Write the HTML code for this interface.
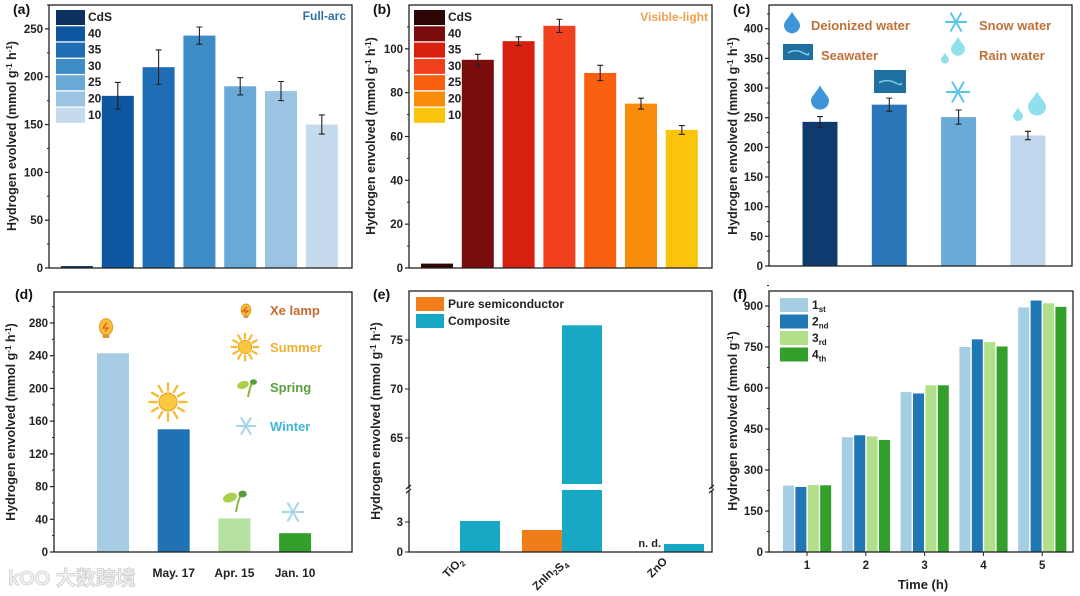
<!DOCTYPE html>
<html><head><meta charset="utf-8">
<style>
html,body{margin:0;padding:0;background:#fff;}
svg{display:block;font-family:"Liberation Sans","Noto Sans CJK SC",sans-serif;font-weight:bold;}
</style></head>
<body>
<svg id="fig" width="1080" height="596" viewBox="0 0 1080 596" xmlns="http://www.w3.org/2000/svg"></svg>
<script>
// Panel (a)
const aLabels = ["CdS","40","35","30","25","20","10"];
const aValues = [2,180,210,243,190,185,150];
const aErrors = [0.5,14,18,9,9,10,10];
const aTicks = [0,50,100,150,200,250];
// Panel (b)
const bLabels = ["CdS","40","35","30","25","20","10"];
const bValues = [2,95,103.5,110.5,89,75,63];
const bErrors = [0.3,2.5,2,3,3.5,2.5,2];
const bTicks = [0,20,40,60,80,100];
// Panel (c)
const cLabels = ["Deionized water","Seawater","Snow water","Rain water"];
const cValues = [243,272,251,220];
const cErrors = [9,11,12,7];
const cTicks = [0,50,100,150,200,250,300,350,400];
// Panel (d)
const dLabels = ["","May. 17","Apr. 15","Jan. 10"];
const dValues = [243,150,41,23];
const dTicks = [0,40,80,120,160,200,240,280];
// Panel (e)
const eCats = ["TiO2","ZnIn2S4","ZnO"];
const ePure = [0,2.2,null];
const eComp = [3.1,76.5,0.8];
const eTicksLow = [0,3];
const eTicksHigh = [65,70,75];
// Panel (f)
const fCats = ["1","2","3","4","5"];
const fRun1 = [243,420,585,750,895];
const fRun2 = [238,427,580,778,920];
const fRun3 = [245,423,610,768,910];
const fRun4 = [244,410,610,752,897];
const fTicks = [0,150,300,450,600,750,900];

const NS="http://www.w3.org/2000/svg";
const svg=document.getElementById('fig');
function mk(tag,attrs,parent,text){const e=document.createElementNS(NS,tag);for(const k in attrs)e.setAttribute(k,attrs[k]);if(text!==undefined)e.textContent=text;(parent||svg).appendChild(e);return e;}
function lin(d0,d1,r0,r1){return v=>r0+(v-d0)*(r1-r0)/(d1-d0);}

function frame(g,L,T,R,B){
  const f=mk('rect',{x:L,y:T,width:R-L,height:B-T,fill:'none',stroke:'#222','stroke-width':1.3},g);
  
}
function yaxis(g,L,ticks,y,minorStep,yTitle,tx,ty){
  ticks.forEach(t=>{
    const yy=y(t);
    const tl=mk('line',{x1:L-4,x2:L,y1:yy,y2:yy,stroke:'#222','stroke-width':1.2},g);
    
    const lb=mk('text',{x:L-6,y:yy+4,'text-anchor':'end','font-size':11.5,fill:'#222'},g,t);
    
    if(minorStep){const ym=y(t+minorStep);mk('line',{x1:L-2,x2:L,y1:ym,y2:ym,stroke:'#222','stroke-width':1},g);}
  });
  const tt=mk('text',{x:tx,y:ty,'text-anchor':'middle','font-size':12.5,fill:'#222',transform:`rotate(-90 ${tx} ${ty})`},g);
  
  tt.innerHTML=yTitle;
}
function plabel(g,x,y,t){const p=mk('text',{x:x,y:y,'font-size':14,fill:'#111'},g,t);}
const titleH='Hydrogen envolved (mmol g<tspan dy="-4" font-size="8">-1</tspan><tspan dy="4"> h</tspan><tspan dy="-4" font-size="8">-1</tspan><tspan dy="4">)</tspan>';
const titleE='Hydrogen evolved (mmol g<tspan dy="-4" font-size="8">-1</tspan><tspan dy="4"> h</tspan><tspan dy="-4" font-size="8">-1</tspan><tspan dy="4">)</tspan>';
function errbar(g,cx,yv,ye,y){
  const t=y(yv+ye),b=y(yv-ye);
  const e=mk('path',{d:`M${cx},${t}V${b}M${cx-3},${t}H${cx+3}M${cx-3},${b}H${cx+3}`,stroke:'#222','stroke-width':1.1,fill:'none'},g);
  
}

// ---------- Panel a ----------
(function(){
  const g=mk('g',{});
  const L=49,T=5,R=352,B=268;
  const y=lin(0,275,B,T);
  const cols=['#0b2f5e','#0e56a0','#1f6db5','#3d8cc6','#68a9d6','#9ac4e2','#c6daee'];
  aValues.forEach((v,i)=>{
    const cx=77+i*40.8;
    const r=mk('rect',{x:cx-16,y:y(v),width:32,height:B-y(v),fill:cols[i]},g);
    
    if(i>0)errbar(g,cx,v,aErrors[i],y);
  });
  aLabels.forEach((l,i)=>{
    const s=mk('rect',{x:56,y:10+i*16.3,width:29,height:15,fill:cols[i]},g);
    
    const t=mk('text',{x:88,y:21+i*16.3,'font-size':12,fill:'#222'},g,l);
    
  });
  const n=mk('text',{x:346,y:20,'text-anchor':'end','font-size':12,fill:'#2e6fa6'},g,'Full-arc');
  
  frame(g,L,T,R,B);
  yaxis(g,L,aTicks,y,25,titleE,16,136);
  plabel(g,13,14,'(a)');
})();

// ---------- Panel b ----------
(function(){
  const g=mk('g',{});
  const L=409,T=5,R=712,B=268;
  const y=lin(0,120,B,T);
  const cols=['#2e0505','#7a0c0c','#d8200e','#f0401e','#f86010','#fa8c0c','#fbc40c'];
  bValues.forEach((v,i)=>{
    const cx=437+i*40.8;
    const r=mk('rect',{x:cx-16,y:y(v),width:32,height:B-y(v),fill:cols[i]},g);
    
    if(i>0)errbar(g,cx,v,bErrors[i],y);
  });
  bLabels.forEach((l,i)=>{
    const s=mk('rect',{x:414,y:10+i*16.3,width:31,height:15,fill:cols[i]},g);
    
    const t=mk('text',{x:448,y:21+i*16.3,'font-size':12,fill:'#222'},g,l);
    
  });
  const n=mk('text',{x:708,y:21,'text-anchor':'end','font-size':12,fill:'#f0a050'},g,'Visible-light');
  
  frame(g,L,T,R,B);
  yaxis(g,L,bTicks,y,10,titleH,375,136);
  plabel(g,373,14,'(b)');
})();

// icons
function drop(g,cx,cy,s,fill,stroke){
  const d=mk('path',{d:`M${cx},${cy-s*1.3} C${cx+s*0.3},${cy-s*0.6} ${cx+s},${cy-s*0.1} ${cx+s},${cy+s*0.4} A${s},${s} 0 0 1 ${cx-s},${cy+s*0.4} C${cx-s},${cy-s*0.1} ${cx-s*0.3},${cy-s*0.6} ${cx},${cy-s*1.3}Z`,fill:fill,stroke:stroke||'none'},g);
  
}
function flake(g,cx,cy,s,col){
  let p='';for(let k=0;k<6;k++){const a=k*Math.PI/3;p+=`M${cx},${cy}L${cx+s*Math.cos(a)},${cy+s*Math.sin(a)}`;}
  const f=mk('path',{d:p,stroke:col,'stroke-width':2,fill:'none'},g);
  
}
function sea(g,x,y,w,h){
  const r=mk('rect',{x:x,y:y,width:w,height:h,fill:'#1f6fa0'},g);
  
  mk('path',{d:`M${x+5},${y+h*0.55}q${w/4},-4 ${w/2},0t${w/2-10},0`,stroke:'#7cc8e8','stroke-width':1.5,fill:'none'},g);
}
function sun(g,cx,cy,s){
  let p='';for(let k=0;k<12;k++){const a=k*Math.PI/6;p+=`M${cx+s*0.7*Math.cos(a)},${cy+s*0.7*Math.sin(a)}L${cx+s*1.3*Math.cos(a)},${cy+s*1.3*Math.sin(a)}`;}
  const r=mk('path',{d:p,stroke:'#f5b830','stroke-width':2.2,fill:'none'},g);
  
  mk('circle',{cx:cx,cy:cy,r:s*0.6,fill:'#f8c840',stroke:'#eaa020','stroke-width':1},g);
}
function bulb(g,cx,cy,s){
  const b=mk('ellipse',{cx:cx,cy:cy,rx:s*0.6,ry:s*0.75,fill:'#f7bf3a',stroke:'#e09a20'},g);
  
  mk('rect',{x:cx-s*0.3,y:cy+s*0.65,width:s*0.6,height:s*0.35,fill:'#d59a40'},g);
  mk('path',{d:`M${cx+1},${cy-s*0.4}L${cx-3},${cy+1}H${cx+2}L${cx-1},${cy+s*0.4}`,stroke:'#e05a20','stroke-width':1.3,fill:'none'},g);
}
function sprout(g,cx,cy,s){
  const st=mk('path',{d:`M${cx},${cy+s}Q${cx+2},${cy} ${cx+s*0.4},${cy-s*0.4}`,stroke:'#8cb840','stroke-width':2,fill:'none'},g);
  
  mk('ellipse',{cx:cx-s*0.5,cy:cy-s*0.2,rx:s*0.6,ry:s*0.38,fill:'#a8d048',transform:`rotate(-20 ${cx-s*0.5} ${cy-s*0.2})`},g);
  mk('ellipse',{cx:cx+s*0.55,cy:cy-s*0.5,rx:s*0.35,ry:s*0.28,fill:'#5a9e3a'},g);
}

// ---------- Panel c ----------
(function(){
  const g=mk('g',{});
  const L=769,T=5,R=1072,B=266;
  const y=lin(0,440,B,T);
  const cols=['#0f3a6e','#2a74b8','#6aaad8','#c0d6ec'];
  cValues.forEach((v,i)=>{
    const cx=820+i*69.3;
    const r=mk('rect',{x:cx-17.5,y:y(v),width:35,height:B-y(v),fill:cols[i]},g);
    
    errbar(g,cx,v,cErrors[i],y);
  });
  drop(g,820,97,9,'#3d95d8');sea(g,874,70,32,23);flake(g,958,92,12,'#5cc6e6');drop(g,1037,103,9,'#8fe0ec');drop(g,1018,114,5,'#8fe0ec');
  drop(g,792,22,8,'#3d95d8');sea(g,783,44,30,16);flake(g,956,22,11,'#5cc6e6');drop(g,958,46,7,'#8fe0ec');drop(g,945,58,4,'#8fe0ec');
  [['Deionized water',811,30],['Snow water',979,30],['Seawater',821,60],['Rain water',979,60]].forEach(a=>{
    const t=mk('text',{x:a[1],y:a[2],'font-size':13,fill:'#c07038'},g,a[0]);
    
  });
  frame(g,L,T,R,B);
  yaxis(g,L,cTicks,y,25,titleH,737,136);
  plabel(g,733,14,'(c)');
})();

// ---------- Panel d ----------
(function(){
  const g=mk('g',{});
  const L=54,T=292,R=352,B=552;
  const y=lin(0,280,B,323);
  const cols=['#a6cde4','#2171b5','#b5e0a0','#33a02c'];
  dValues.forEach((v,i)=>{
    const cx=113+i*60.7;
    const r=mk('rect',{x:cx-16,y:y(v),width:32,height:B-y(v),fill:cols[i]},g);
    
    if(dLabels[i]){const t=mk('text',{x:cx,y:577,'text-anchor':'middle','font-size':12,fill:'#222'},g,dLabels[i]);}
  });
  bulb(g,106,327,11);sun(g,168,402,15);sprout(g,236,500,12);flake(g,293,512,11,'#a8d4ec');
  bulb(g,246,310,8);sun(g,245,347,11);sprout(g,248,387,10);flake(g,246,426,10,'#a8d4ec');
  [['Xe lamp',270,315,'#c86a30'],['Summer',270,352,'#f0b030'],['Spring',270,392,'#5aa040'],['Winter',270,431,'#40b8d8']].forEach(a=>{
    const t=mk('text',{x:a[1],y:a[2],'font-size':13,fill:a[3]},g,a[0]);
    
  });
  frame(g,L,T,R,B);
  yaxis(g,L,dTicks,y,20,titleH,15,422);
  plabel(g,15,299,'(d)');
  const w=mk('text',{x:8,y:585,'font-size':20,fill:'#f2f2f2',stroke:'#cfcfcf','stroke-width':0.8},g,'kOO 大数跨境');
  
})();

// ---------- Panel e ----------
(function(){
  const g=mk('g',{});
  const L=409,T=291,R=712,B=552;
  const yLow=lin(0,3,B,522), brk=490;
  const yHigh=lin(65,75,438,340), brk2=487;
  const y=v=>v<=6.2?yLow(v):Math.max(yHigh(v),T);
  const cx0=460, step=102;
  eCats.forEach((c,i)=>{
    const cx=cx0+i*step;
    if(ePure[i]){const r=mk('rect',{x:cx-40,y:yLow(ePure[i]),width:40,height:B-yLow(ePure[i]),fill:'#f07d1a'},g);}
    const v=eComp[i];
    if(v>6.2){
      const r1=mk('rect',{x:cx,y:brk,width:40,height:B-brk,fill:'#17a9c4'},g);
      const r2=mk('rect',{x:cx,y:yHigh(v),width:40,height:brk2-3-yHigh(v),fill:'#17a9c4'},g);
    } else {
      const r=mk('rect',{x:cx,y:yLow(v),width:40,height:B-yLow(v),fill:'#17a9c4'},g);
    }
    if(ePure[i]===null){const t=mk('text',{x:cx-3,y:B-5,'text-anchor':'end','font-size':11,fill:'#222'},g,'n. d.');}
    const lx=cx+4, ly=B+10;
    const t=mk('text',{x:lx,y:ly,'text-anchor':'end','font-size':11.5,fill:'#222',transform:`rotate(-45 ${lx} ${ly})`},g);
    
    t.innerHTML=c.replace(/(\d)/g,'<tspan font-size="8" dy="3">$1</tspan><tspan dy="-3"></tspan>');
  });
  const s=mk('rect',{x:416,y:297,width:28,height:14,fill:'#f07d1a'},g);
  const s2=mk('rect',{x:416,y:314,width:28,height:14,fill:'#17a9c4'},g);
  const l1=mk('text',{x:448,y:308,'font-size':12,fill:'#222'},g,'Pure semiconductor');
  const l2=mk('text',{x:448,y:325,'font-size':12,fill:'#222'},g,'Composite');
  frame(g,L,T,R,B);
  mk('rect',{x:L-3,y:brk-1,width:6,height:brk2-brk+2+2,fill:'#fff'},g);
  mk('rect',{x:R-3,y:brk-1,width:6,height:brk2-brk+2+2,fill:'#fff'},g);
  const bk=mk('path',{d:`M${L-3},${brk+3}l5,-4M${L-3},${brk-1}l5,-4M${R-3},${brk+3}l5,-4M${R-3},${brk-1}l5,-4`,stroke:'#222','stroke-width':1.2},g);
  
  eTicksLow.forEach(t=>{const yy=yLow(t);mk('line',{x1:L-4,x2:L,y1:yy,y2:yy,stroke:'#222'},g);const lb=mk('text',{x:L-6,y:yy+4,'text-anchor':'end','font-size':11.5,fill:'#222'},g,t);});
  eTicksHigh.forEach(t=>{const yy=yHigh(t);mk('line',{x1:L-4,x2:L,y1:yy,y2:yy,stroke:'#222'},g);const lb=mk('text',{x:L-6,y:yy+4,'text-anchor':'end','font-size':11.5,fill:'#222'},g,t);});
  const tt=mk('text',{x:380,y:421,'text-anchor':'middle','font-size':12.5,fill:'#222',transform:'rotate(-90 380 421)'},g);
  tt.innerHTML=titleH;
  plabel(g,373,299,'(e)');
})();

// ---------- Panel f ----------
(function(){
  const g=mk('g',{});
  const L=769,T=291,R=1073,B=552;
  const y=lin(0,900,B,306);
  const runs=[fRun1,fRun2,fRun3,fRun4];
  const cols=['#a6cee3','#1f78b4','#b2df8a','#33a02c'];
  fCats.forEach((c,i)=>{
    const cx=807+i*58.8;
    runs.forEach((r,j)=>{
      const bx=cx-24+j*12.4;
      const b=mk('rect',{x:bx,y:y(r[i]),width:11,height:B-y(r[i]),fill:cols[j]},g);
      
    });
    mk('line',{x1:cx,x2:cx,y1:B,y2:B+4,stroke:'#222'},g);
    const t=mk('text',{x:cx,y:B+17,'text-anchor':'middle','font-size':11.5,fill:'#222'},g,c);
    
  });
  const sub=['st','nd','rd','th'];
  cols.forEach((col,j)=>{
    const s=mk('rect',{x:780,y:298+j*16.5,width:28,height:14,fill:col},g);
    const t=mk('text',{x:812,y:309+j*16.5,'font-size':12,fill:'#222'},g);
    
    t.innerHTML=`${j+1}<tspan font-size="8" dy="3">${sub[j]}</tspan>`;
  });
  frame(g,L,T,R,B);
  yaxis(g,L,fTicks,y,75,'Hydrogen envolved (mmol g<tspan dy="-4" font-size="8">-1</tspan><tspan dy="4">)</tspan>',737,421);
  const xt=mk('text',{x:923,y:589,'text-anchor':'middle','font-size':13,fill:'#222'},g,'Time (h)');
  
  plabel(g,733,299,'(f)');
})();
</script>
</body></html>
